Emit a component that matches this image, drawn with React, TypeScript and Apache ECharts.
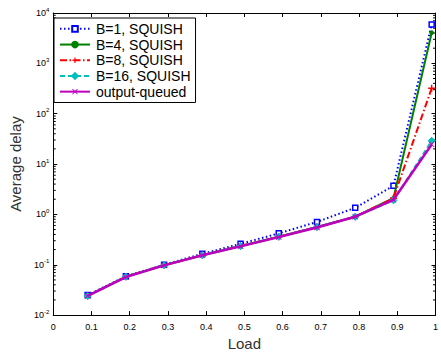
import React, { useEffect, useRef } from "react";
import * as echarts from "echarts";

const loads = [0.09, 0.19, 0.29, 0.39, 0.49, 0.59, 0.69, 0.79, 0.89, 0.99];
const b1 = [0.025, 0.059, 0.1, 0.165, 0.26, 0.42, 0.71, 1.35, 3.7, 5900];
const b4 = [0.024, 0.058, 0.098, 0.155, 0.235, 0.36, 0.56, 0.9, 2.1, 4050];
const b8 = [0.024, 0.058, 0.098, 0.155, 0.235, 0.36, 0.56, 0.9, 2.1, 320];
const b16 = [0.024, 0.058, 0.098, 0.155, 0.235, 0.36, 0.56, 0.9, 1.9, 29];
const oq = [0.024, 0.057, 0.097, 0.154, 0.232, 0.355, 0.55, 0.9, 1.95, 24.5];
const seriesNames = ["B=1, SQUISH", "B=4, SQUISH", "B=8, SQUISH", "B=16, SQUISH", "output-queued"];
const xTicks = [0, 0.1, 0.2, 0.3, 0.4, 0.5, 0.6, 0.7, 0.8, 0.9, 1];
const yDecades = [0.01, 0.1, 1, 10, 100, 1000, 10000];

const FONT = "Liberation Sans, Arial, sans-serif";

const minorTicks: number[] = [];
for (let d = 0; d < yDecades.length - 1; d++) {
  for (let m = 2; m <= 9; m++) minorTicks.push(yDecades[d] * m);
}

const plusPath = "path://M4,0H6V4H10V6H6V10H4V6H0V4H4Z";
const crossPath = "path://M1,0L5,4L9,0L10,1L6,5L10,9L9,10L5,6L1,10L0,9L4,5L0,1Z";

function pairs(vals: number[]) {
  return loads.map((x, i) => [x, vals[i]]);
}

export default function App() {
  const ref = useRef<HTMLDivElement>(null);
  useEffect(() => {
    if (!ref.current) return;
    const chart = echarts.init(ref.current, undefined, { renderer: "svg" });
    const yLabel = (v: number) => {
      const e = Math.round(Math.log10(v));
      return `{b|10}{s|${e}}`;
    };
    const option: any = {
      animation: false,
      backgroundColor: "#fff",
      textStyle: { fontFamily: FONT },
      grid: { left: 49, right: 2, top: 13, bottom: 36 },
      legend: {
        orient: "vertical",
        left: 54,
        top: 18,
        data: seriesNames,
        backgroundColor: "#fff",
        borderColor: "#000",
        borderWidth: 1,
        borderRadius: 0,
        padding: [3, 5, 3, 5],
        itemGap: 0,
        itemWidth: 30,
        itemHeight: 7,
        textStyle: { fontSize: 14, lineHeight: 15.7, color: "#000", fontFamily: FONT, padding: [0, 0, 0, 1] },
      },
      xAxis: [
        {
          type: "value",
          min: 0,
          max: 1,
          interval: 0.1,
          name: "Load",
          nameLocation: "middle",
          nameGap: 19,
          nameTextStyle: { fontSize: 15, color: "#333", fontFamily: FONT },
          axisLine: { onZero: false, lineStyle: { color: "#000", width: 1 } },
          axisTick: { inside: true, length: 4, lineStyle: { color: "#000" } },
          axisLabel: {
            fontSize: 9,
            color: "#000",
            margin: 7,
            formatter: (v: number) => {
              const t = xTicks.find((k) => Math.abs(k - v) < 1e-6);
              return t === undefined ? "" : String(t);
            },
          },
          splitLine: { show: false },
        },
        {
          type: "value",
          position: "top",
          min: 0,
          max: 1,
          interval: 0.1,
          axisLine: { onZero: false, lineStyle: { color: "#000", width: 1 } },
          axisTick: { inside: true, length: 4, lineStyle: { color: "#000" } },
          axisLabel: { show: false },
          splitLine: { show: false },
        },
      ],
      yAxis: [
        {
          type: "log",
          logBase: 10,
          min: 0.01,
          max: 10000,
          splitNumber: 6,
          name: "Average delay",
          nameLocation: "middle",
          nameGap: 29,
          nameTextStyle: { fontSize: 15, color: "#333", fontFamily: FONT },
          axisLine: { onZero: false, lineStyle: { color: "#000", width: 1 } },
          axisTick: { inside: true, length: 4, lineStyle: { color: "#000" } },
          axisLabel: {
            color: "#000",
            margin: 4,
            formatter: yLabel,
            rich: {
              b: { fontSize: 9, color: "#000", fontFamily: FONT },
              s: { fontSize: 6, color: "#000", fontFamily: FONT, padding: [0, 0, 7, 0] },
            },
          },
          splitLine: { show: false },
        },
        {
          type: "log",
          logBase: 10,
          min: 0.01,
          max: 10000,
          splitNumber: 6,
          position: "right",
          axisLine: { onZero: false, lineStyle: { color: "#000", width: 1 } },
          axisTick: { inside: true, length: 4, lineStyle: { color: "#000" } },
          axisLabel: { show: false },
          splitLine: { show: false },
        },
      ],
      series: [
        {
          type: "custom",
          silent: true,
          xAxisIndex: 0,
          yAxisIndex: 0,
          data: minorTicks.map((v) => [0, v]),
          renderItem: (params: any, api: any) => {
            const v = api.value(1);
            const l = api.coord([0, v]);
            const r = api.coord([1, v]);
            return {
              type: "group",
              children: [
                { type: "line", shape: { x1: l[0], y1: l[1], x2: l[0] + 2.5, y2: l[1] }, style: { stroke: "#000", lineWidth: 1 } },
                { type: "line", shape: { x1: r[0], y1: r[1], x2: r[0] - 2.5, y2: r[1] }, style: { stroke: "#000", lineWidth: 1 } },
              ],
            };
          },
          z: 1,
        },
        {
          name: seriesNames[0],
          type: "line",
          data: pairs(b1),
          color: "#0000ff",
          lineStyle: { color: "#0000ff", width: 2, type: [1.5, 2.5] },
          symbol: "rect",
          symbolSize: 5,
          itemStyle: { color: "#fff", borderColor: "#0000ff", borderWidth: 1.5 },
          z: 2,
        },
        {
          name: seriesNames[1],
          type: "line",
          data: pairs(b4),
          color: "#008000",
          lineStyle: { color: "#008000", width: 2, type: "solid" },
          symbol: "circle",
          symbolSize: 4,
          itemStyle: { color: "#008000", borderColor: "#008000", borderWidth: 1 },
          z: 3,
        },
        {
          name: seriesNames[2],
          type: "line",
          data: pairs(b8),
          color: "#ff0000",
          lineStyle: { color: "#ff0000", width: 2, type: [7, 2.5, 1.5, 2.5] },
          symbol: plusPath,
          symbolSize: 7,
          itemStyle: { color: "#ff0000", borderWidth: 0 },
          z: 4,
        },
        {
          name: seriesNames[3],
          type: "line",
          data: pairs(b16),
          color: "#00bfbf",
          lineStyle: { color: "#00bfbf", width: 2, type: [5, 3] },
          symbol: "diamond",
          symbolSize: 7,
          itemStyle: { color: "#00bfbf", borderColor: "#00bfbf", borderWidth: 1 },
          z: 5,
        },
        {
          name: seriesNames[4],
          type: "line",
          data: pairs(oq),
          color: "#bf00bf",
          lineStyle: { color: "#bf00bf", width: 2.5, type: "solid" },
          symbol: crossPath,
          symbolSize: 6,
          itemStyle: { color: "#bf00bf", borderWidth: 0 },
          z: 6,
        },
      ],
    };
    chart.setOption(option);
    return () => chart.dispose();
  }, []);
  return (
    <div
      ref={ref}
      style={{ position: "fixed", left: 0, top: 0, width: 441, height: 356, background: "#fff" }}
    />
  );
}
